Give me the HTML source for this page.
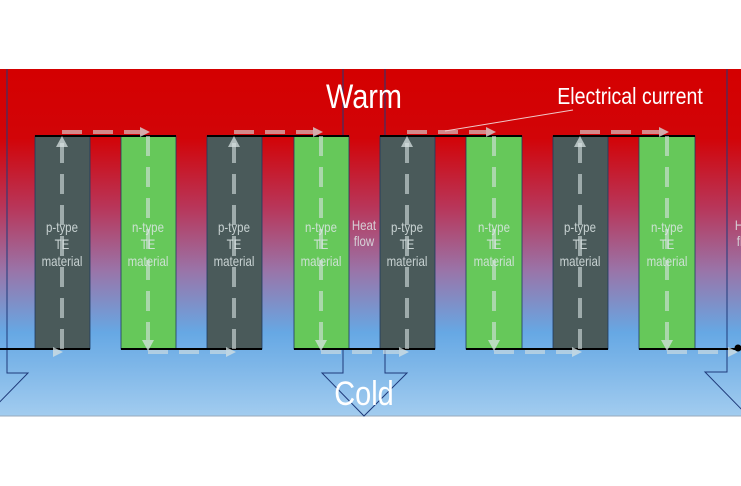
<!DOCTYPE html>
<html><head><style>html,body{margin:0;padding:0;background:#fff}svg{display:block}</style></head>
<body>
<svg width="741" height="486" viewBox="0 0 741 486" xmlns="http://www.w3.org/2000/svg" font-family="Liberation Sans, sans-serif">
<defs>
<linearGradient id="bg" x1="0" y1="0" x2="0" y2="1">
<stop offset="0" stop-color="#d40000"/>
<stop offset="0.2" stop-color="#d20408"/>
<stop offset="0.4" stop-color="#b8365a"/>
<stop offset="0.58" stop-color="#9a74a8"/>
<stop offset="0.76" stop-color="#66a8e4"/>
<stop offset="1" stop-color="#a2ccef"/>
</linearGradient>
</defs>
<rect x="0" y="69" width="741" height="347" fill="url(#bg)"/>
<line x1="0" y1="416" x2="741" y2="416" stroke="#9ab" stroke-width="1"/>
<g fill="none" stroke="#1f3a7a" stroke-width="1">
<polyline points="7,69 7,373 28,373 -14,416"/>
<polyline points="343,69 343,373 322,373 364,416 407,373 385,373 385,69"/>
<polyline points="727,69 727,372 705,372 748,416"/>
</g>
<g stroke="#1f3a60" stroke-width="0.8">
<rect x="35" y="136" width="55" height="213" fill="#4a5a5a"/>
<rect x="121" y="136" width="55" height="213" fill="#66c85a"/>
<rect x="207" y="136" width="55" height="213" fill="#4a5a5a"/>
<rect x="294" y="136" width="55" height="213" fill="#66c85a"/>
<rect x="380" y="136" width="55" height="213" fill="#4a5a5a"/>
<rect x="466" y="136" width="56" height="213" fill="#66c85a"/>
<rect x="553" y="136" width="55" height="213" fill="#4a5a5a"/>
<rect x="639" y="136" width="56" height="213" fill="#66c85a"/>
</g>
<g stroke="#000" stroke-width="2">
<line x1="35" y1="136" x2="176" y2="136"/><line x1="207" y1="136" x2="349" y2="136"/>
<line x1="380" y1="136" x2="522" y2="136"/><line x1="553" y1="136" x2="695" y2="136"/>
<line x1="0" y1="349" x2="90" y2="349"/><line x1="121" y1="349" x2="262" y2="349"/>
<line x1="294" y1="349" x2="435" y2="349"/><line x1="466" y1="349" x2="608" y2="349"/>
<line x1="639" y1="349" x2="738" y2="349"/>
</g>
<circle cx="738" cy="348" r="3.5" fill="#000"/>
<g stroke="rgba(215,225,225,0.6)" stroke-width="4" stroke-dasharray="20,11" fill="none">
<path d="M62,349 V140 M62,132 H140 M148,136 V340 M148,352 H226 M234,349 V140 M234,132 H313 M321,136 V340 M321,352 H399 M407,349 V140 M407,132 H486 M494,136 V340 M494,352 H572 M580,349 V140 M580,132 H659 M667,136 V340 M667,352 H728"/>
</g>
<g fill="rgba(215,225,225,0.75)">
<path d="M56,147 L62,136 L68,147Z M228,147 L234,136 L240,147Z M401,147 L407,136 L413,147Z M574,147 L580,136 L586,147Z"/>
<path d="M142,340 L148,351 L154,340Z M315,340 L321,351 L327,340Z M488,340 L494,351 L500,340Z M661,340 L667,351 L673,340Z"/>
<path d="M140,127 L150,132 L140,137Z M313,127 L323,132 L313,137Z M486,127 L496,132 L486,137Z M659,127 L669,132 L659,137Z"/>
<path d="M53,347 L63,352 L53,357Z M226,347 L236,352 L226,357Z M399,347 L409,352 L399,357Z M572,347 L582,352 L572,357Z M728,347 L738,352 L728,357Z"/>
</g>
<g fill="#dde6e6" font-size="14" text-anchor="middle" opacity="0.85">
<g transform="translate(62,0) scale(0.82,1)"><text x="0" y="232">p-type</text><text x="0" y="249">TE</text><text x="0" y="266">material</text></g>
<g transform="translate(148,0) scale(0.82,1)"><text x="0" y="232">n-type</text><text x="0" y="249">TE</text><text x="0" y="266">material</text></g>
<g transform="translate(234,0) scale(0.82,1)"><text x="0" y="232">p-type</text><text x="0" y="249">TE</text><text x="0" y="266">material</text></g>
<g transform="translate(321,0) scale(0.82,1)"><text x="0" y="232">n-type</text><text x="0" y="249">TE</text><text x="0" y="266">material</text></g>
<g transform="translate(407,0) scale(0.82,1)"><text x="0" y="232">p-type</text><text x="0" y="249">TE</text><text x="0" y="266">material</text></g>
<g transform="translate(494,0) scale(0.82,1)"><text x="0" y="232">n-type</text><text x="0" y="249">TE</text><text x="0" y="266">material</text></g>
<g transform="translate(580,0) scale(0.82,1)"><text x="0" y="232">p-type</text><text x="0" y="249">TE</text><text x="0" y="266">material</text></g>
<g transform="translate(667,0) scale(0.82,1)"><text x="0" y="232">n-type</text><text x="0" y="249">TE</text><text x="0" y="266">material</text></g>
<g transform="translate(364,0) scale(0.82,1)"><text x="0" y="230">Heat</text><text x="0" y="246">flow</text></g>
<g transform="translate(747,0) scale(0.82,1)"><text x="0" y="230">Heat</text><text x="0" y="246">flow</text></g>
</g>
<g transform="translate(364,0) scale(0.85,1)">
<text x="0" y="108" fill="#fff" font-size="34" text-anchor="middle">Warm</text>
<text x="0" y="405" fill="#fff" font-size="34" text-anchor="middle">Cold</text>
</g>
<g transform="translate(630,0) scale(0.85,1)"><text x="0" y="104" fill="#fff" font-size="23" text-anchor="middle">Electrical current</text></g>
<line x1="573" y1="110" x2="445" y2="131" stroke="#f0c8c8" stroke-width="1"/>
</svg>
</body></html>
